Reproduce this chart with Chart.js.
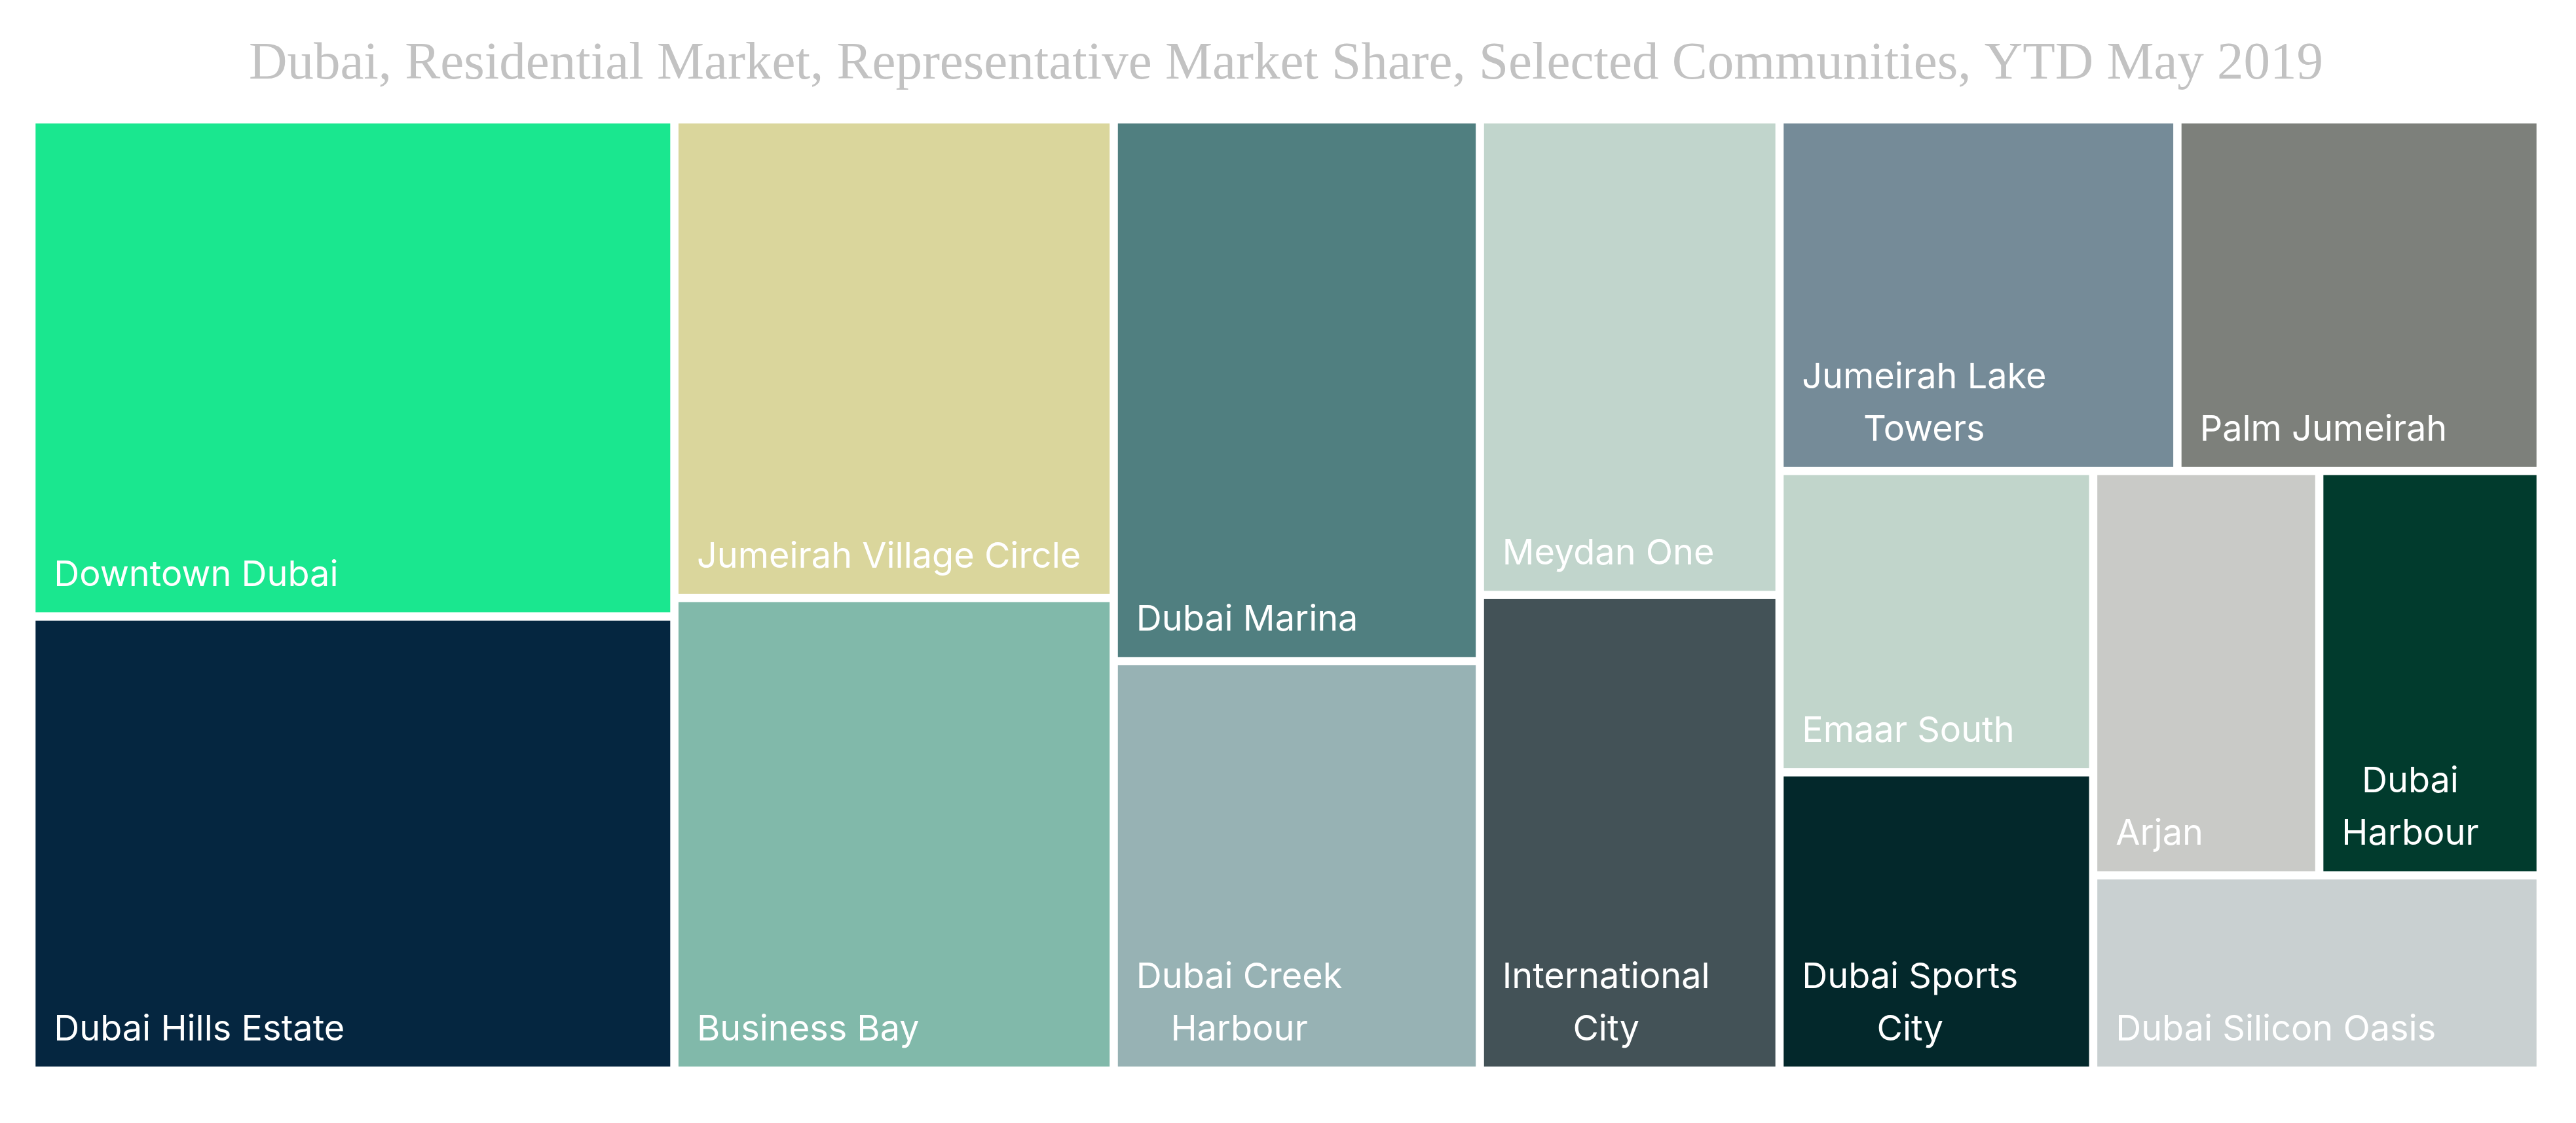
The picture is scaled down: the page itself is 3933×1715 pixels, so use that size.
<!DOCTYPE html>
<html>
<head>
<meta charset="utf-8">
<script src="https://cdn.jsdelivr.net/npm/chart.js@4.4.1/dist/chart.umd.min.js"></script>
<style>
  html, body { margin: 0; padding: 0; background: #ffffff; }
  canvas { display: block; }
</style>
</head>
<body>
<canvas id="treemap" width="3933" height="1715"></canvas>
<script>
// communities, biggest first (market share, %)
var communities = [
    'Downtown Dubai', 'Dubai Hills Estate', 'Jumeirah Village Circle', 'Business Bay',
    'Dubai Marina', 'Dubai Creek Harbour', 'Meydan One', 'International City',
    'Jumeirah Lake Towers', 'Palm Jumeirah', 'Emaar South', 'Dubai Sports City',
    'Arjan', 'Dubai Harbour', 'Dubai Silicon Oasis'
];
var shares = [13.39, 12.23, 8.81, 8.70, 8.31, 6.28, 5.97, 5.97, 5.86, 5.35, 3.96, 3.92, 3.83, 3.75, 3.66];
var colors = [
    '#1ae78f', '#052640', '#dad69c', '#81b9aa',
    '#507f80', '#97b2b4', '#c1d5cc', '#435257',
    '#758b98', '#7d807b', '#c1d5cb', '#03282b',
    '#c9cac7', '#013b2d', '#c9d0d1'
];

// lays values out two at a time, as a strip along the shorter side
function layoutStrips(values, aspect) {
    var x = 0, y = 0, w = 100, h = 100;
    var total = values.reduce(function (a, b) { return a + b; }, 0);
    var unit = (w * h) / total;
    var rects = [];
    for (var i = 0; i < values.length; i += 2) {
        var group = values.slice(i, i + 2);
        if (group.length == 1) {
            rects.push({ x: x, y: y, w: w, h: h });
            break;
        }
        var gsum = group[0] + group[1];
        if (w * aspect >= h) {
            var cw = gsum * unit / h, yy = y;
            group.forEach(function (v) {
                var ch = v * unit / cw;
                rects.push({ x: x, y: yy, w: cw, h: ch });
                yy += ch;
            });
            x += cw; w -= cw;
        } else {
            var rh = gsum * unit / w, xx = x;
            group.forEach(function (v) {
                var rw = v * unit / rh;
                rects.push({ x: xx, y: y, w: rw, h: rh });
                xx += rw;
            });
            y += rh; h -= rh;
        }
    }
    return rects;
}

var treemapPlugin = {
    id: 'treemap',
    afterDatasetsDraw: function (chart) {
        var ctx = chart.ctx;
        var xs = chart.scales.x, ys = chart.scales.y;
        var aspect = Math.abs(xs.getPixelForValue(100) - xs.getPixelForValue(0)) /
                     Math.abs(ys.getPixelForValue(100) - ys.getPixelForValue(0));
        var rects = layoutStrips(shares, aspect);
        var gap = 6.3;
        ctx.save();
        rects.forEach(function (r, i) {
            var left = xs.getPixelForValue(r.x) + gap;
            var right = xs.getPixelForValue(r.x + r.w) - gap;
            var top = ys.getPixelForValue(r.y) + gap;
            var bottom = ys.getPixelForValue(r.y + r.h) - gap;
            ctx.fillStyle = colors[i];
            ctx.fillRect(left, top, right - left, bottom - top);

            // label, wrapped to the cell width, lines centred on each other
            ctx.font = '54px Inter';
            ctx.fillStyle = '#ffffff';
            ctx.textBaseline = 'alphabetic';
            ctx.textAlign = 'left';
            var maxW = right - left - 56;
            var words = communities[i].split(' ');
            var lines = [], line = '';
            words.forEach(function (wd) {
                var test = line ? line + ' ' + wd : wd;
                if (line && ctx.measureText(test).width > maxW) {
                    lines.push(line);
                    line = wd;
                } else {
                    line = test;
                }
            });
            lines.push(line);
            var blockW = Math.max.apply(null, lines.map(function (l) { return ctx.measureText(l).width; }));
            lines.forEach(function (l, k) {
                var lw = ctx.measureText(l).width;
                var by = bottom - 40 - (lines.length - 1 - k) * 80;
                ctx.fillText(l, left + 28 + (blockW - lw) / 2, by);
            });
        });
        ctx.restore();
    }
};

var ctx = document.getElementById('treemap').getContext('2d');
var myChart = new Chart(ctx, {
    type: 'scatter',
    data: {
        datasets: [{
            label: 'Market share',
            data: []
        }]
    },
    options: {
        responsive: false,
        animation: false,
        layout: {
            padding: { left: 48, right: 54, top: 0, bottom: 80 }
        },
        scales: {
            x: { type: 'linear', min: 0, max: 100, display: false },
            y: { type: 'linear', min: 0, max: 100, reverse: true, display: false }
        },
        plugins: {
            legend: { display: false },
            tooltip: { enabled: false },
            title: {
                display: true,
                text: 'Dubai, Residential Market, Representative Market Share, Selected Communities, YTD May 2019',
                color: '#c2c2c2',
                font: { family: 'Liberation Serif', size: 81, weight: 'normal' },
                padding: { top: 50, bottom: 35 }
            }
        }
    },
    plugins: [treemapPlugin]
});
</script>
</body>
</html>
